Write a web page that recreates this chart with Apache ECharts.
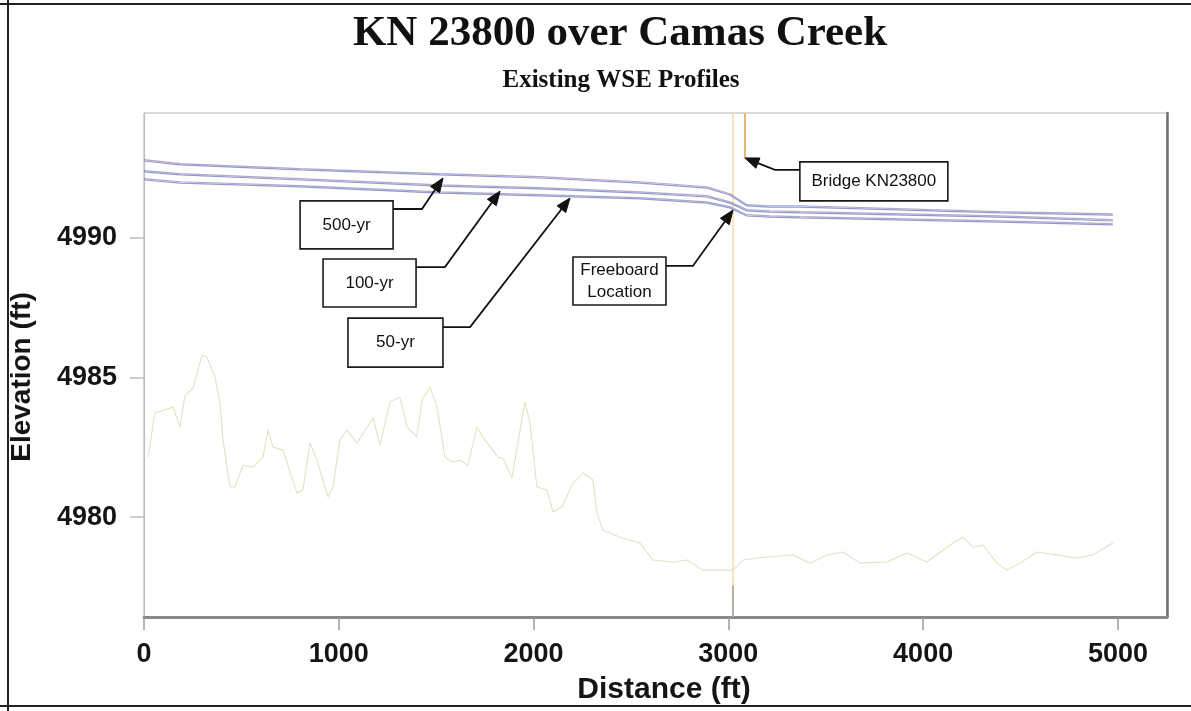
<!DOCTYPE html>
<html>
<head>
<meta charset="utf-8">
<title>KN 23800 over Camas Creek</title>
<script src="https://cdn.jsdelivr.net/npm/echarts@6/dist/echarts.min.js"></script>
<style>
  html, body { margin: 0; padding: 0; background: #ffffff; }
  #chart { width: 1191px; height: 711px; }
</style>
</head>
<body>
<div id="chart"></div>
<script>
// ---- Data -------------------------------------------------------------
// Water surface elevation profiles (distance ft, elevation ft)
const wseDistance = [0, 185, 801, 1520, 2033, 2546, 2890, 3008, 3095, 3214, 3368, 4394, 4974];
const wse500 = [4992.76, 4992.62, 4992.44, 4992.26, 4992.15, 4991.97, 4991.79, 4991.54, 4991.15, 4991.11, 4991.11, 4990.90, 4990.82];
const wse100 = [4992.37, 4992.26, 4992.08, 4991.86, 4991.76, 4991.61, 4991.47, 4991.25, 4990.97, 4990.93, 4990.90, 4990.75, 4990.61];
const wse50  = [4992.08, 4991.97, 4991.83, 4991.61, 4991.51, 4991.40, 4991.25, 4991.08, 4990.79, 4990.75, 4990.72, 4990.57, 4990.47];

// Channel bed (thalweg) profile
const groundDistance = [21, 56, 149, 185, 211, 252, 298, 323, 364, 390, 406, 441, 467, 508, 560, 611, 637, 662, 714,
  785, 816, 852, 888, 945, 970, 1006, 1042, 1093, 1176, 1211, 1263, 1314, 1350, 1401, 1427, 1468, 1504, 1545, 1586,
  1622, 1663, 1709, 1740, 1817, 1843, 1889, 1920, 1956, 1982, 2017, 2069, 2100, 2146, 2197, 2254, 2305, 2325, 2356,
  2444, 2546, 2613, 2716, 2787, 2870, 3024, 3075, 3198, 3332, 3419, 3506, 3588, 3676, 3814, 3917, 4019, 4153, 4204,
  4256, 4307, 4379, 4430, 4497, 4584, 4687, 4790, 4872, 4974];
const groundElevation = [4982.15, 4983.73, 4983.94, 4983.23, 4984.37, 4984.62, 4985.81, 4985.73, 4985.02, 4984.12,
  4982.76, 4981.08, 4981.08, 4981.86, 4981.79, 4982.15, 4983.12, 4982.51, 4982.40, 4980.86, 4980.97, 4982.65,
  4982.04, 4980.72, 4981.08, 4982.76, 4983.12, 4982.65, 4983.55, 4982.58, 4984.12, 4984.30, 4983.23, 4982.87,
  4984.19, 4984.66, 4983.94, 4982.15, 4981.97, 4982.04, 4981.86, 4983.23, 4982.87, 4982.15, 4982.11, 4981.40,
  4982.69, 4984.12, 4983.37, 4981.08, 4980.97, 4980.18, 4980.36, 4981.15, 4981.58, 4981.33, 4980.14, 4979.53,
  4979.28, 4979.07, 4978.46, 4978.39, 4978.46, 4978.10, 4978.10, 4978.46, 4978.57, 4978.64, 4978.35, 4978.64,
  4978.75, 4978.35, 4978.39, 4978.71, 4978.39, 4979.07, 4979.28, 4978.92, 4979.00, 4978.35, 4978.10, 4978.35,
  4978.75, 4978.64, 4978.53, 4978.64, 4979.07];

// Bridge faces (distance ft) and low chord end of downstream marker
const bridgeUpstreamX = 3024;
const bridgeDownstreamX = 3085;
const bridgeMarkerBottom = 4992.87;
const bridgePierTop = 4977.55;

// Axis ticks
const xTicks = [0, 1000, 2000, 3000, 4000, 5000];
const yTicks = [4980, 4985, 4990];

// Callout labels, their target points and anchors (data units)
const calloutLabels = ['500-yr', '100-yr', '50-yr', 'Freeboard\nLocation', 'Bridge KN23800'];
const calloutTips   = [[1535, 4992.15], [1828, 4991.68], [2187, 4991.43], [3024, 4991.00], [3085, 4992.87]];
const calloutElbows = [[1427, 4991.04], [1545, 4988.96], [1674, 4986.81], [2818, 4989.00], [3239, 4992.44]];
const calloutBoxes  = [[1040, 4990.47], [1158, 4988.39], [1291, 4986.25], [2441, 4988.46], [3747, 4992.03]];

// ---- Chart ------------------------------------------------------------
const X_MIN = 0, X_MAX = 5252;
const Y_MIN = 4976.42, Y_MAX = 4994.48;
const SANS = '"Liberation Sans", Arial, sans-serif';
const SERIF = '"Liberation Serif", "Times New Roman", serif';

const toPairs = (xs, ys) => xs.map((x, i) => [x, ys[i]]);
const plain = (v) => String(Math.round(v));

const chart = echarts.init(document.getElementById('chart'), null, { renderer: 'canvas' });

const wseStyle = {
  color: '#9595e4', width: 1.2,
  shadowColor: 'rgba(120,120,130,0.6)', shadowBlur: 0, shadowOffsetY: -1.3
};

chart.setOption({
  animation: false,
  backgroundColor: '#ffffff',
  grid: {
    left: 144, right: 24, top: 113, bottom: 94,
    show: true, borderColor: '#b4b4b4', borderWidth: 1
  },
  xAxis: [{
    type: 'value', min: X_MIN, max: X_MAX,
    axisLine: { show: true, onZero: false, lineStyle: { color: '#888888', width: 3 } },
    axisTick: { show: true, length: 13, customValues: xTicks, lineStyle: { color: '#9a9a9a', width: 1.5 } },
    axisLabel: { customValues: xTicks, formatter: plain, margin: 24, fontFamily: SANS, fontWeight: 'bold', fontSize: 27, color: '#151515' },
    splitLine: { show: false }
  }],
  yAxis: [{
    type: 'value', min: Y_MIN, max: Y_MAX,
    axisLine: { show: true, onZero: false, lineStyle: { color: '#bdbdbd', width: 1.2 } },
    axisTick: { show: true, length: 14, customValues: yTicks, lineStyle: { color: '#bdbdbd', width: 1.5 } },
    axisLabel: { customValues: yTicks, formatter: plain, margin: 27, fontFamily: SANS, fontWeight: 'bold', fontSize: 27, color: '#151515' },
    splitLine: { show: false }
  }, {
    type: 'value', min: Y_MIN, max: Y_MAX, position: 'right',
    axisLine: { show: true, onZero: false, lineStyle: { color: '#6e6e6e', width: 2.5 } },
    axisTick: { show: false }, axisLabel: { show: false }, splitLine: { show: false }
  }],
  series: [
    {
      name: 'Ground', type: 'line', showSymbol: false, z: 1,
      data: toPairs(groundDistance, groundElevation),
      lineStyle: { color: '#e6e1c0', width: 1.1 }
    },
    {
      name: 'Bridge upstream face', type: 'line', showSymbol: false, z: 2,
      data: [[bridgeUpstreamX, Y_MIN], [bridgeUpstreamX, Y_MAX]],
      lineStyle: { color: '#f5dcaa', width: 1.5 }
    },
    {
      name: 'Bridge pier', type: 'line', showSymbol: false, z: 2,
      data: [[bridgeUpstreamX, Y_MIN], [bridgeUpstreamX, bridgePierTop]],
      lineStyle: { color: '#a0a0a0', width: 1.5 }
    },
    {
      name: 'Bridge downstream face', type: 'line', showSymbol: false, z: 2,
      data: [[bridgeDownstreamX, bridgeMarkerBottom], [bridgeDownstreamX, Y_MAX]],
      lineStyle: { color: '#e6b46c', width: 2 }
    },
    { name: '500-yr', type: 'line', showSymbol: false, z: 3, data: toPairs(wseDistance, wse500), lineStyle: wseStyle },
    { name: '100-yr', type: 'line', showSymbol: false, z: 3, data: toPairs(wseDistance, wse100), lineStyle: wseStyle },
    { name: '50-yr',  type: 'line', showSymbol: false, z: 3, data: toPairs(wseDistance, wse50),  lineStyle: wseStyle }
  ]
});

// ---- Titles, axis names, page frame and callouts ----------------------
const px = (p) => chart.convertToPixel({ xAxisIndex: 0, yAxisIndex: 0 }, p);
const boxSizes = [[93, 48], [93, 48], [95, 49], [93, 48], [148, 39]];

const graphics = [
  { type: 'line', shape: { x1: 0, y1: 4, x2: 1191, y2: 4 }, style: { stroke: '#222', lineWidth: 2 } },
  { type: 'line', shape: { x1: 8, y1: 0, x2: 8, y2: 711 }, style: { stroke: '#222', lineWidth: 2 } },
  { type: 'line', shape: { x1: 0, y1: 706, x2: 1191, y2: 706 }, style: { stroke: '#222', lineWidth: 2 } },
  {
    type: 'text', x: 620, y: 34,
    style: { text: 'KN 23800 over Camas Creek', font: 'bold 43px ' + SERIF, fill: '#111', align: 'center', verticalAlign: 'middle' }
  },
  {
    type: 'text', x: 621, y: 81,
    style: { text: 'Existing WSE Profiles', font: 'bold 25px ' + SERIF, fill: '#111', align: 'center', verticalAlign: 'middle' }
  },
  {
    type: 'text', x: 664, y: 690,
    style: { text: 'Distance (ft)', font: 'bold 30px ' + SANS, fill: '#151515', align: 'center', verticalAlign: 'middle' }
  },
  {
    type: 'text', x: 22, y: 377, rotation: Math.PI / 2,
    style: { text: 'Elevation (ft)', font: 'bold 28px ' + SANS, fill: '#151515', align: 'center', verticalAlign: 'middle' }
  }
];

calloutLabels.forEach((label, i) => {
  const tip = px(calloutTips[i]);
  const elbow = px(calloutElbows[i]);
  const center = px(calloutBoxes[i]);
  const [bw, bh] = boxSizes[i];
  const bx = center[0] - bw / 2, by = center[1] - bh / 2;
  const startX = elbow[0] > center[0] ? bx + bw : bx;

  // arrow head geometry along the final leg
  const dx = tip[0] - elbow[0], dy = tip[1] - elbow[1];
  const len = Math.hypot(dx, dy);
  const ux = dx / len, uy = dy / len;
  const L = 14, W = 5.5;
  const base = [tip[0] - ux * L, tip[1] - uy * L];
  const nx = -uy, ny = ux;

  graphics.push({
    type: 'polyline', z: 10,
    shape: { points: [[startX, elbow[1]], elbow, base] },
    style: { stroke: '#111', lineWidth: 1.8, fill: null }
  });
  graphics.push({
    type: 'polygon', z: 10,
    shape: { points: [tip, [base[0] + nx * W, base[1] + ny * W], [base[0] - nx * W, base[1] - ny * W]] },
    style: { fill: '#111', stroke: '#111', lineWidth: 1 }
  });
  graphics.push({
    type: 'rect', z: 11,
    shape: { x: bx, y: by, width: bw, height: bh },
    style: { fill: '#ffffff', stroke: '#1a1a1a', lineWidth: 1.6 }
  });
  graphics.push({
    type: 'text', z: 12, x: center[0], y: center[1],
    style: { text: label, font: '17px ' + SANS, fill: '#111', align: 'center', verticalAlign: 'middle', lineHeight: 22 }
  });
});

chart.setOption({ graphic: graphics });
</script>
</body>
</html>
